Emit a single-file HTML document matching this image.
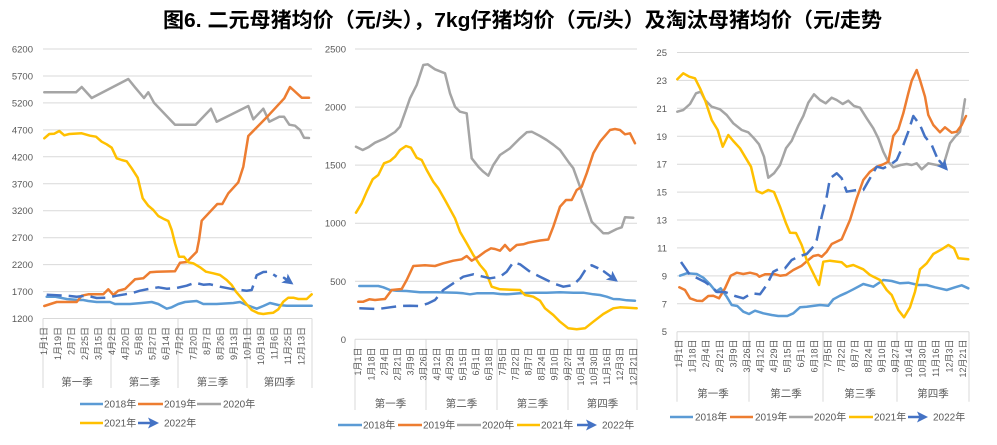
<!DOCTYPE html>
<html><head><meta charset="utf-8"><style>
html,body{margin:0;padding:0;background:#fff;}
svg{display:block;}
text{font-family:"Liberation Sans","Noto Sans CJK SC",sans-serif;fill:#595959;}
.t{font-size:9.5px;}
.xl{font-size:9px;}
.q{font-size:10.5px;}
.lg{font-size:10px;}
.g{stroke:#D9D9D9;stroke-width:1;fill:none;}
.s{fill:none;stroke-width:2.5;stroke-linejoin:round;stroke-linecap:round;}
.d{fill:none;stroke:#4472C4;stroke-width:2.5;stroke-dasharray:15 7;stroke-linejoin:round;}
</style></head><body>
<svg width="997" height="445" viewBox="0 0 997 445" xmlns="http://www.w3.org/2000/svg">
<defs>
<marker id="ah" markerUnits="userSpaceOnUse" markerWidth="14" markerHeight="14" refX="8" refY="5.5" orient="auto">
<path d="M0,0 L11,5.5 L0,11 L2.5,5.5 z" fill="#4472C4"/>
</marker>
</defs>
<rect width="997" height="445" fill="#fff"/>
<text x="163" y="27" textLength="719" lengthAdjust="spacingAndGlyphs" style="font-size:20.5px;font-weight:bold;fill:#000;font-family:'Liberation Sans','Noto Sans CJK SC',sans-serif">图6. 二元母猪均价（元/头），7kg仔猪均价（元/头）及淘汰母猪均价（元/走势</text>

<!-- ===== Chart 1 ===== -->
<g class="g">
<line x1="43" y1="49" x2="312" y2="49"/><line x1="43" y1="76" x2="312" y2="76"/><line x1="43" y1="102.9" x2="312" y2="102.9"/><line x1="43" y1="129.9" x2="312" y2="129.9"/><line x1="43" y1="156.8" x2="312" y2="156.8"/><line x1="43" y1="183.8" x2="312" y2="183.8"/><line x1="43" y1="210.7" x2="312" y2="210.7"/><line x1="43" y1="237.7" x2="312" y2="237.7"/><line x1="43" y1="264.6" x2="312" y2="264.6"/><line x1="43" y1="291.6" x2="312" y2="291.6"/><line x1="43" y1="318.5" x2="312" y2="318.5"/>
<line x1="43" y1="318.5" x2="43" y2="388"/><line x1="111" y1="318.5" x2="111" y2="388"/><line x1="178" y1="318.5" x2="178" y2="388"/><line x1="247" y1="318.5" x2="247" y2="388"/><line x1="312" y1="318.5" x2="312" y2="388"/>
</g>
<g class="t" text-anchor="end">
<text x="33" y="52.5">6200</text><text x="33" y="79.5">5700</text><text x="33" y="106.4">5200</text><text x="33" y="133.4">4700</text><text x="33" y="160.3">4200</text><text x="33" y="187.3">3700</text><text x="33" y="214.2">3200</text><text x="33" y="241.2">2700</text><text x="33" y="268.1">2200</text><text x="33" y="295.1">1700</text><text x="33" y="322">1200</text>
</g>
<g class="xl" text-anchor="end">
<text transform="translate(44,327) rotate(-90)" dy="0.35em">1月1日</text>
<text transform="translate(57.6,327) rotate(-90)" dy="0.35em">1月19日</text>
<text transform="translate(71.1,327) rotate(-90)" dy="0.35em">2月7日</text>
<text transform="translate(84.7,327) rotate(-90)" dy="0.35em">2月25日</text>
<text transform="translate(98.2,327) rotate(-90)" dy="0.35em">3月15日</text>
<text transform="translate(111.8,327) rotate(-90)" dy="0.35em">4月2日</text>
<text transform="translate(125.3,327) rotate(-90)" dy="0.35em">4月20日</text>
<text transform="translate(138.9,327) rotate(-90)" dy="0.35em">5月8日</text>
<text transform="translate(152.4,327) rotate(-90)" dy="0.35em">5月27日</text>
<text transform="translate(165.9,327) rotate(-90)" dy="0.35em">6月14日</text>
<text transform="translate(179.5,327) rotate(-90)" dy="0.35em">7月2日</text>
<text transform="translate(193.1,327) rotate(-90)" dy="0.35em">7月20日</text>
<text transform="translate(206.6,327) rotate(-90)" dy="0.35em">8月7日</text>
<text transform="translate(220.2,327) rotate(-90)" dy="0.35em">8月26日</text>
<text transform="translate(233.7,327) rotate(-90)" dy="0.35em">9月13日</text>
<text transform="translate(247.3,327) rotate(-90)" dy="0.35em">10月1日</text>
<text transform="translate(260.8,327) rotate(-90)" dy="0.35em">10月19日</text>
<text transform="translate(274.4,327) rotate(-90)" dy="0.35em">11月6日</text>
<text transform="translate(287.9,327) rotate(-90)" dy="0.35em">11月25日</text>
<text transform="translate(301.5,327) rotate(-90)" dy="0.35em">12月13日</text>
</g>
<g class="q" text-anchor="middle">
<text x="77" y="385.5">第一季</text><text x="144.5" y="385.5">第二季</text><text x="212.5" y="385.5">第三季</text><text x="279.5" y="385.5">第四季</text>
</g>
<polyline class="s" stroke="#A5A5A5" points="44.3,92.3 76,92.3 81.7,87 91.7,98 128.3,79 135,87.3 144,98 148.3,92.3 154,102.7 175,124.7 195.7,124.7 211,108.7 216.7,121.7 248.3,106 253.3,119.3 263.3,108.7 269.3,121.7 279.3,116.7 284,116.7 289.3,124.7 295,125.7 300,130 304,137.7 309,138"/>
<polyline class="s" stroke="#5B9BD5" points="46.7,296.7 55,296.7 66.7,299 78.3,300 83.3,300 88.3,301 96.7,302 110,302 115,304 130,304 141.7,303 151.7,302 158.3,304 166.7,308.7 171.7,307.3 178.3,304 185,302 196.7,301 203.3,304 216.7,304 233.3,303 240,302 246.7,305 256.7,308.7 263.3,306 270,303 278.3,305 286.7,305.7 311.7,305.7"/>
<polyline class="s" stroke="#ED7D31" points="44.3,306 56.7,302 76.7,302 81.7,295.7 88.3,294.3 103.3,294.3 108.3,289.3 113.3,295 118.3,290.7 125,289 135,279.3 143.3,278.3 150,272.3 156.7,271.7 175,271.3 180,262.7 186.7,262 196.7,251.7 199,240 201.7,220.7 217.3,204 222.3,204 228.3,193.3 238.3,182.3 243.3,166.7 248.3,136 266.7,117.3 284.3,98.3 290,87 301.7,97.7 309,97.7"/>
<polyline class="s" stroke="#FFC000" points="44.3,138.3 49.3,134 54.3,133.7 59.3,131 64.3,135.3 69.3,134 81.7,133.3 90,135.7 96,136.7 101.7,141.7 106.7,144.3 111.7,147.7 116.7,158.3 121.7,160 126.7,161.3 131.7,168.3 137.7,177.7 142.7,198.3 148.3,205.7 153.3,210 158.3,216 163.3,218.7 168.3,221 171.7,230 175,243.3 179,256.7 184,256.7 188.3,262.3 193.3,263.3 200,267.3 206,271.7 213.3,273.3 220,275 226.7,280 231.7,285 236,291.7 241.7,298.3 246.7,304.3 251.7,310 258.3,313.3 263.3,314 268.3,313.3 273.3,312.7 278.3,309.3 283.3,301.7 288.3,297.7 293.3,297.7 298.3,299 306.7,299 311.7,294.3"/>
<polyline class="d" points="46.7,294.7 66.7,295.7 76.7,296.7 86.7,295.7 96.7,298 106.7,297.7 116.7,295.7 125,294.3 133.3,292.7 140,290.7 150,288.7 158.3,287.3 166.7,288.7 175,288.3 186.7,285.7 195,282.7 203.3,284.7 210,284.3 220,286.7 233.3,289.3 246.7,290.7 251.7,290 256.7,275.3 263.3,272 269.3,271.7 276.7,276.7"/>
<polyline class="s" stroke="#4472C4" points="284,277.8 291,282.8" marker-end="url(#ah)"/>
<!-- legend 1 -->
<line x1="80" y1="404" x2="103" y2="404" stroke="#5B9BD5" stroke-width="2.5"/><text class="lg" x="104" y="407.5">2018年</text>
<line x1="138" y1="404" x2="163" y2="404" stroke="#ED7D31" stroke-width="2.5"/><text class="lg" x="164" y="407.5">2019年</text>
<line x1="197" y1="404" x2="221" y2="404" stroke="#A5A5A5" stroke-width="2.5"/><text class="lg" x="223" y="407.5">2020年</text>
<line x1="80" y1="423" x2="103" y2="423" stroke="#FFC000" stroke-width="2.5"/><text class="lg" x="104" y="426.5">2021年</text>
<line x1="138" y1="423" x2="156" y2="423" stroke="#4472C4" stroke-width="2.5" marker-end="url(#ah)"/><text class="lg" x="164" y="426.5">2022年</text>

<!-- ===== Chart 2 ===== -->
<g class="g">
<line x1="355" y1="49" x2="637" y2="49"/><line x1="355" y1="107.1" x2="637" y2="107.1"/><line x1="355" y1="165.1" x2="637" y2="165.1"/><line x1="355" y1="223.2" x2="637" y2="223.2"/><line x1="355" y1="281.3" x2="637" y2="281.3"/><line x1="355" y1="339.3" x2="637" y2="339.3"/>
<line x1="355" y1="339.3" x2="355" y2="410"/><line x1="426" y1="339.3" x2="426" y2="410"/><line x1="497" y1="339.3" x2="497" y2="410"/><line x1="568" y1="339.3" x2="568" y2="410"/><line x1="637" y1="339.3" x2="637" y2="410"/>
</g>
<g class="t" text-anchor="end">
<text x="346" y="52.5">2500</text><text x="346" y="110.6">2000</text><text x="346" y="168.6">1500</text><text x="346" y="226.7">1000</text><text x="346" y="284.8">500</text><text x="346" y="342.8">0</text>
</g>
<g class="xl" text-anchor="end">
<text transform="translate(358,347.5) rotate(-90)" dy="0.35em">1月1日</text>
<text transform="translate(371.1,347.5) rotate(-90)" dy="0.35em">1月18日</text>
<text transform="translate(384.2,347.5) rotate(-90)" dy="0.35em">2月4日</text>
<text transform="translate(397.3,347.5) rotate(-90)" dy="0.35em">2月21日</text>
<text transform="translate(410.4,347.5) rotate(-90)" dy="0.35em">3月9日</text>
<text transform="translate(423.5,347.5) rotate(-90)" dy="0.35em">3月26日</text>
<text transform="translate(436.6,347.5) rotate(-90)" dy="0.35em">4月12日</text>
<text transform="translate(449.7,347.5) rotate(-90)" dy="0.35em">4月29日</text>
<text transform="translate(462.8,347.5) rotate(-90)" dy="0.35em">5月15日</text>
<text transform="translate(475.9,347.5) rotate(-90)" dy="0.35em">6月1日</text>
<text transform="translate(489,347.5) rotate(-90)" dy="0.35em">6月18日</text>
<text transform="translate(502.1,347.5) rotate(-90)" dy="0.35em">7月5日</text>
<text transform="translate(515.2,347.5) rotate(-90)" dy="0.35em">7月22日</text>
<text transform="translate(528.3,347.5) rotate(-90)" dy="0.35em">8月7日</text>
<text transform="translate(541.4,347.5) rotate(-90)" dy="0.35em">8月24日</text>
<text transform="translate(554.5,347.5) rotate(-90)" dy="0.35em">9月10日</text>
<text transform="translate(567.6,347.5) rotate(-90)" dy="0.35em">9月27日</text>
<text transform="translate(580.7,347.5) rotate(-90)" dy="0.35em">10月14日</text>
<text transform="translate(593.8,347.5) rotate(-90)" dy="0.35em">10月30日</text>
<text transform="translate(606.9,347.5) rotate(-90)" dy="0.35em">11月16日</text>
<text transform="translate(620,347.5) rotate(-90)" dy="0.35em">12月3日</text>
<text transform="translate(633.1,347.5) rotate(-90)" dy="0.35em">12月21日</text>
</g>
<g class="q" text-anchor="middle">
<text x="390.5" y="407">第一季</text><text x="461.5" y="407">第二季</text><text x="532.5" y="407">第三季</text><text x="602.5" y="407">第四季</text>
</g>
<polyline class="s" stroke="#A5A5A5" points="356,146.7 362.7,150 368.3,147.3 375,142.7 385,138.3 395,132 400,126.7 405,112.7 410,98.3 416.7,85 423.3,65 427.7,64.3 435,69.3 445,73.3 450,93.3 455,106.7 460,111.7 466.7,113.3 471.7,158.3 478.3,166.7 483.3,171.7 488.3,175.7 493.3,165 500,155 510,148.3 520,138.3 526.7,132.3 531.7,131.7 540,136 546.7,140 553.3,144.7 560,150 568.3,161.7 573.3,168.3 580,186.7 586.7,206.7 591.7,221.7 598.3,228.3 603.3,233.3 608.3,233.3 616.7,229 621.7,227.3 625,217.3 633.3,217.7"/>
<polyline class="s" stroke="#5B9BD5" points="359.3,286 378.3,286 383.3,287.3 390,290 396.7,290.7 406.7,291 420,292.3 436.7,292.3 456.7,292.7 463.3,293.3 470,294.3 476.7,293.3 493.3,293.3 500,294 506.7,294.3 520,293.3 533.3,292.7 546.7,292.7 560,292.3 573.3,292.7 583.3,292.7 593.3,294.3 600,295 606.7,296.7 613.3,299 620,299.3 626.7,300.3 635,300.7"/>
<polyline class="s" stroke="#FFC000" points="356,212.7 361.7,203.3 366.7,191.7 372.7,179.3 378.3,175 384,163.3 390,161 395,156.7 400,150 406,146 411,147.7 416.7,157.7 421.7,160 426.7,170 433.3,181.7 438.3,188.3 445,200 455,218.3 460,231.7 466.7,243.3 473.3,255 480,265 485.7,271.7 491.7,286.7 500,289.3 520,290 525,295 533.3,296.7 540,300.7 545,308.3 553.3,315 560,321.7 568.3,328.3 576.7,329.3 585,328.3 593.3,321.7 603.3,314 613.3,308.3 620,307.3 628.3,307.7 636.7,308.3"/>
<polyline class="s" stroke="#ED7D31" points="358.3,301.7 363.3,301.7 369.3,299.3 375,300 385,299 391.7,290 401.7,289 406.7,280 413.3,266 425,265.3 435,266 443.3,263.3 453.3,260.7 461.7,259.3 466.7,256 471.7,260.7 478.3,256.7 485,251.7 491,248.3 495,249 500,250.7 505,245 510,250.7 516.7,245 523.3,244.3 528.3,242.7 540,240.5 548.3,239.5 553.3,226.7 560,206.7 566,200 571.7,200 576.7,190 581.7,186.7 586.7,173.3 593.3,153.3 600,141.7 610,130 615,129 620,130 625,134.3 630,133.3 635,143.3"/>
<polyline class="d" points="359.3,308.3 378.3,309 390,307.3 400,306 410,305.7 420,306 428.3,303.3 435,300 443.3,290 453.3,283.3 463.3,276.7 473.3,274.3 483.3,276.7 490,278.3 500,276.7 506.7,271.7 513.3,262.3 520,264.3 530,271.7 540,276.7 553.3,283.3 563.3,286.7 573.3,285 580,278.3 586.7,267.7 591.7,265.3 598.3,268.3"/>
<polyline class="s" stroke="#4472C4" points="604,271.5 615.5,280" marker-end="url(#ah)"/>
<!-- legend 2 -->
<line x1="338" y1="425" x2="362" y2="425" stroke="#5B9BD5" stroke-width="2.5"/><text class="lg" x="363" y="428.5">2018年</text>
<line x1="398" y1="425" x2="422" y2="425" stroke="#ED7D31" stroke-width="2.5"/><text class="lg" x="423" y="428.5">2019年</text>
<line x1="457" y1="425" x2="481" y2="425" stroke="#A5A5A5" stroke-width="2.5"/><text class="lg" x="482" y="428.5">2020年</text>
<line x1="517" y1="425" x2="540" y2="425" stroke="#FFC000" stroke-width="2.5"/><text class="lg" x="541" y="428.5">2021年</text>
<line x1="577" y1="425" x2="594" y2="425" stroke="#4472C4" stroke-width="2.5" marker-end="url(#ah)"/><text class="lg" x="602" y="428.5">2022年</text>

<!-- ===== Chart 3 ===== -->
<g class="g">
<line x1="677" y1="52.5" x2="969" y2="52.5"/><line x1="677" y1="80.4" x2="969" y2="80.4"/><line x1="677" y1="108.3" x2="969" y2="108.3"/><line x1="677" y1="136.3" x2="969" y2="136.3"/><line x1="677" y1="164.2" x2="969" y2="164.2"/><line x1="677" y1="192.1" x2="969" y2="192.1"/><line x1="677" y1="220" x2="969" y2="220"/><line x1="677" y1="247.9" x2="969" y2="247.9"/><line x1="677" y1="275.9" x2="969" y2="275.9"/><line x1="677" y1="303.8" x2="969" y2="303.8"/><line x1="677" y1="331.7" x2="969" y2="331.7"/>
<line x1="677" y1="331.7" x2="677" y2="401.7"/><line x1="749" y1="331.7" x2="749" y2="401.7"/><line x1="823" y1="331.7" x2="823" y2="401.7"/><line x1="897" y1="331.7" x2="897" y2="401.7"/><line x1="969" y1="331.7" x2="969" y2="401.7"/>
</g>
<g class="t" text-anchor="end">
<text x="667" y="56">25</text><text x="667" y="83.9">23</text><text x="667" y="111.8">21</text><text x="667" y="139.8">19</text><text x="667" y="167.7">17</text><text x="667" y="195.6">15</text><text x="667" y="223.5">13</text><text x="667" y="251.4">11</text><text x="667" y="279.4">9</text><text x="667" y="307.3">7</text><text x="667" y="335.2">5</text>
</g>
<g class="xl" text-anchor="end">
<text transform="translate(679,339.5) rotate(-90)" dy="0.35em">1月1日</text>
<text transform="translate(692.5,339.5) rotate(-90)" dy="0.35em">1月18日</text>
<text transform="translate(706,339.5) rotate(-90)" dy="0.35em">2月4日</text>
<text transform="translate(719.6,339.5) rotate(-90)" dy="0.35em">2月21日</text>
<text transform="translate(733.1,339.5) rotate(-90)" dy="0.35em">3月9日</text>
<text transform="translate(746.6,339.5) rotate(-90)" dy="0.35em">3月26日</text>
<text transform="translate(760.1,339.5) rotate(-90)" dy="0.35em">4月12日</text>
<text transform="translate(773.6,339.5) rotate(-90)" dy="0.35em">4月29日</text>
<text transform="translate(787.2,339.5) rotate(-90)" dy="0.35em">5月15日</text>
<text transform="translate(800.7,339.5) rotate(-90)" dy="0.35em">6月1日</text>
<text transform="translate(814.2,339.5) rotate(-90)" dy="0.35em">6月18日</text>
<text transform="translate(827.7,339.5) rotate(-90)" dy="0.35em">7月5日</text>
<text transform="translate(841.2,339.5) rotate(-90)" dy="0.35em">7月22日</text>
<text transform="translate(854.8,339.5) rotate(-90)" dy="0.35em">8月7日</text>
<text transform="translate(868.3,339.5) rotate(-90)" dy="0.35em">8月24日</text>
<text transform="translate(881.8,339.5) rotate(-90)" dy="0.35em">9月10日</text>
<text transform="translate(895.3,339.5) rotate(-90)" dy="0.35em">9月27日</text>
<text transform="translate(908.8,339.5) rotate(-90)" dy="0.35em">10月14日</text>
<text transform="translate(922.4,339.5) rotate(-90)" dy="0.35em">10月30日</text>
<text transform="translate(935.9,339.5) rotate(-90)" dy="0.35em">11月16日</text>
<text transform="translate(949.4,339.5) rotate(-90)" dy="0.35em">12月3日</text>
<text transform="translate(962.9,339.5) rotate(-90)" dy="0.35em">12月21日</text>
</g>
<g class="q" text-anchor="middle">
<text x="713" y="397">第一季</text><text x="786" y="397">第二季</text><text x="860" y="397">第三季</text><text x="933" y="397">第四季</text>
</g>
<polyline class="s" stroke="#A5A5A5" points="677.3,111.7 683.3,110 690,104 696,93.3 700.7,91.7 705,100 711.7,106.7 720,109.3 726.7,115 733.3,123.3 741.7,130 748.3,132.3 754,138.3 759,144.3 764,156.7 768.3,177.7 774,173.3 780,165 786,148.3 791.7,140.7 798.3,125.7 803.3,116 808.3,102.7 814,94.3 820,100 825.7,103.3 831.7,97.7 836.7,100 842.7,104 848.3,100.7 854,106 860,107.7 866.7,118.3 873.3,128.3 878.3,138.3 883.3,151.7 888.3,161.7 893.3,167.3 900.7,165 906.7,164 911.7,165 916.7,163.3 921.7,169.3 928.3,163.3 936.7,165 943.3,165.7 950,143.3 955,136.7 960,131.7 965,99.3"/>
<polyline class="s" stroke="#5B9BD5" points="680,275.7 686.7,273.3 696.7,274 703.3,277.7 710,284.3 716,291.7 720.7,288.3 726.7,296.7 731.7,305 737.3,306 743.3,311.7 749,314 755,310.7 763.3,313.3 771.7,315 778.3,316 787.3,316 793.3,313.3 800,307.3 806.7,306.7 820,305 828.3,305.7 833.3,299.3 840,295.7 846.7,292.7 853.3,289.3 863.3,284 873.3,286.7 883.3,280 891.7,281 900,283.3 908.3,282.7 918.3,285 926.7,285 935,287.3 946.7,290 955,287.3 961.7,285.3 968.3,288.3"/>
<polyline class="s" stroke="#ED7D31" points="679.3,287.3 685,290 690,298.3 696.7,300.7 702.3,301 708.3,296 713.3,295.7 719,298.3 725,288.3 730.7,275.7 736.7,272.7 743.3,274 750,272.7 756.7,274.3 759.3,276.7 765,274.3 775,274.3 780,275.7 786,275 793.3,270 801.7,265.7 808.3,260 813.3,256 818.3,255 821.7,256.7 826.7,251.7 831.7,244 841.7,239.3 850,220 856.7,198.3 863.3,180 870,171.7 876.7,166.7 883.3,164.3 888.3,161.7 893.3,136 898.3,129.3 903.3,113.3 908.3,93.3 911.7,80.7 916.7,70 920,80 925,96.7 928.3,115 933.3,125 940,132.3 945,127.3 951.7,132.7 956.7,131.7 961.7,125 966,116"/>
<polyline class="s" stroke="#FFC000" points="677.3,79.3 683.3,73.3 689.3,76.7 695,78.3 700,88.3 705,100 711.7,120 717.7,130 722.7,146.7 728.3,135 733.3,141 740,148.3 745,156.7 751,166.7 756.7,191 762.3,193.3 768.3,190 774,192 780,206.7 786,223.3 790,232.7 796,233 801.7,245 806.7,260 813.3,273.3 819,285 823.3,261.7 830,260.7 841.7,262.3 846.7,266.7 853.3,265 863.3,269.3 870,275 880,280 886.7,290 891.7,295 898.3,310 904,317.3 910,307.3 915,291.7 920,269.3 926.7,263.3 933.3,254 941.7,249.3 948.3,245 954,248.3 958.3,258.3 968.3,259.3"/>
<polyline class="d" points="681,262 690,275 697,278 705,282 712,287 717,292 725,292 735,296 743.3,298.3 751.7,293.3 760,294.3 766.7,285 773.3,271.7 780,268.3 785,268.3 791.7,260 800,256 806.7,254 813.3,246.7 816.7,240 821.7,216.7 826.7,196.7 830,178.3 836.7,173.3 841.7,178.3 846.7,191.7 856.7,190 863.3,190 870,178.3 876.7,166.7 883.3,168.3 890,165 896.7,160 903.3,145 908.3,131.7 913.3,116 920,125 925,136.7 931.7,145 936.7,156.7"/>
<polyline class="s" stroke="#4472C4" points="939.5,161 946,168.5" marker-end="url(#ah)"/>
<!-- legend 3 -->
<line x1="670" y1="417" x2="693" y2="417" stroke="#5B9BD5" stroke-width="2.5"/><text class="lg" x="695" y="420.5">2018年</text>
<line x1="730" y1="417" x2="753" y2="417" stroke="#ED7D31" stroke-width="2.5"/><text class="lg" x="755" y="420.5">2019年</text>
<line x1="789" y1="417" x2="813" y2="417" stroke="#A5A5A5" stroke-width="2.5"/><text class="lg" x="814" y="420.5">2020年</text>
<line x1="849" y1="417" x2="873" y2="417" stroke="#FFC000" stroke-width="2.5"/><text class="lg" x="874" y="420.5">2021年</text>
<line x1="908" y1="417" x2="925" y2="417" stroke="#4472C4" stroke-width="2.5" marker-end="url(#ah)"/><text class="lg" x="933" y="420.5">2022年</text>
</svg>
</body></html>
